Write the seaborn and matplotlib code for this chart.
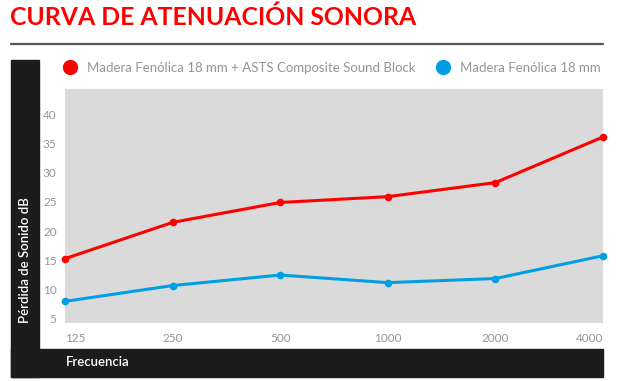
import matplotlib
matplotlib.use("Agg")
import matplotlib.pyplot as plt
from matplotlib.patches import Rectangle
from matplotlib.lines import Line2D
import seaborn as sns
import pandas as pd

frequencies = [125, 250, 500, 1000, 2000, 4000]
composite_db = [15.3, 21.5, 24.9, 25.9, 28.3, 36.1]
fenolica_db = [8.0, 10.7, 12.5, 11.2, 11.9, 15.8]
series_names = ["Madera Fenólica 18 mm + ASTS Composite Sound Block", "Madera Fenólica 18 mm"]
y_ticks = [5, 10, 15, 20, 25, 30, 35, 40]
title = "CURVA DE ATENUACIÓN SONORA"
y_label = "Pérdida de Sonido dB"
x_label = "Frecuencia"

RED = "#ff0000"
BLUE = "#009fe3"
GRAY_BG = "#dadada"
DARK = "#1c1c1c"
TICK = "#959595"

sns.set_theme(style="white")
plt.rcParams["font.family"] = ["Lato", "DejaVu Sans"]

W, H = 618, 381
fig = plt.figure(figsize=(W / 100, H / 100), dpi=100)
fig.patch.set_facecolor("white")

def fx(px):
    return px / W

def fy(py):
    return 1 - py / H

# black frame pieces
fig.patches.append(Rectangle((fx(11), fy(377)), fx(39) - fx(11), fy(60) - fy(377),
                             transform=fig.transFigure, color=DARK, zorder=0))
fig.patches.append(Rectangle((fx(11), fy(377)), fx(603) - fx(11), fy(349) - fy(377),
                             transform=fig.transFigure, color=DARK, zorder=0))
# rule under title
fig.add_artist(Line2D([fx(11), fx(603)], [fy(43.7), fy(43.7)], transform=fig.transFigure,
                      color="#555555", linewidth=1.6))

ax = fig.add_axes([fx(65), fy(323), fx(603) - fx(65), fy(89) - fy(323)])
ax.set_facecolor(GRAY_BG)

df = pd.DataFrame({
    "freq": frequencies * 2,
    "db": composite_db + fenolica_db,
    "serie": [series_names[0]] * len(frequencies) + [series_names[1]] * len(frequencies),
})
sns.lineplot(data=df, x="freq", y="db", hue="serie", palette=[RED, BLUE], marker="o",
             markersize=5.5, markeredgewidth=0, linewidth=2.2, legend=False, ax=ax, clip_on=False)

ax.set_xscale("log", base=2)
ax.set_xlim(frequencies[0], frequencies[-1])
ax.set_ylim(4.3, 44.3)
ax.set_xticks(frequencies)
ax.set_xticklabels([str(f) for f in frequencies])
ax.minorticks_off()
ax.set_yticks(y_ticks)
ax.set_yticklabels([str(v) for v in y_ticks])
ax.tick_params(axis="both", length=0, labelsize=8.5, labelcolor=TICK)
ax.tick_params(axis="y", pad=6)
ax.tick_params(axis="x", pad=7)
xt = ax.get_xticklabels()
xt[0].set_horizontalalignment("left")
xt[-1].set_horizontalalignment("right")
for s in ax.spines.values():
    s.set_visible(False)
ax.set_xlabel("")
ax.set_ylabel("")
ax.grid(False)

# axis titles in the black frame
fig.text(fx(25), fy(260), y_label, color="white", rotation=90, fontsize=9.5,
         fontweight="semibold", ha="center", va="center")
fig.text(fx(66), fy(362), x_label, color="white", fontsize=9.5, fontweight="semibold",
         ha="left", va="center")

# title
fig.text(fx(10), fy(17.5), title, color=RED, fontsize=17.8, fontweight="bold",
         ha="left", va="center")

# legend
fs = 9.55
handles = [Line2D([], [], linestyle="none", marker="o", markersize=11, color=c,
                  markeredgewidth=0) for c in (RED, BLUE)]
leg = fig.legend(handles, series_names, loc="center left", bbox_to_anchor=(fx(61.7), fy(68)),
                 ncol=2, frameon=False, fontsize=fs, handletextpad=0.7, columnspacing=1.5,
                 handlelength=1.2, borderpad=0, borderaxespad=0)
for t in leg.get_texts():
    t.set_color(TICK)

fig.savefig("out.png", dpi=100)
